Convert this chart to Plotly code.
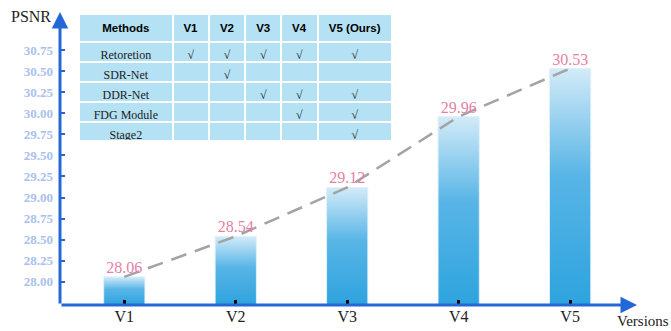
import plotly.graph_objects as go

versions = ["V1", "V2", "V3", "V4", "V5"]
psnr = [28.06, 28.54, 29.12, 29.96, 30.53]
y_ticks = [28.00, 28.25, 28.50, 28.75, 29.00, 29.25, 29.50, 29.75, 30.00, 30.25, 30.50, 30.75]

table_header = ["Methods", "V1", "V2", "V3", "V4", "V5 (Ours)"]
table_methods = ["Retoretion", "SDR-Net", "DDR-Net", "FDG Module", "Stage2"]
table_v1 = ["√", "", "", "", ""]
table_v2 = ["√", "√", "", "", ""]
table_v3 = ["√", "", "√", "", ""]
table_v4 = ["√", "", "√", "√", ""]
table_v5 = ["√", "", "√", "√", "√"]

W, H = 671, 331
X0, X1 = -0.577, 4.6
Y0, Y1 = 27.726, 31.2
BW = 0.37
SERIF = "Liberation Serif"

fig = go.Figure()

# gradient bars
for i, v in enumerate(psnr):
    fig.add_trace(go.Scatter(
        x=[i - BW / 2, i + BW / 2, i + BW / 2, i - BW / 2, i - BW / 2],
        y=[Y0, Y0, v, v, Y0],
        mode="lines", fill="toself",
        line=dict(color="rgba(225,242,252,0.9)", width=1),
        fillgradient=dict(type="vertical",
                          colorscale=[[0, "#2ea3de"], [0.55, "#58b5e6"], [1, "#d3ebf8"]]),
        hoverinfo="skip", showlegend=False,
    ))

# dashed trend line
fig.add_trace(go.Scatter(
    x=list(range(len(versions))), y=psnr, mode="lines",
    line=dict(color="#a3a3a3", width=2.5, dash="16px,9px"),
    hoverinfo="skip", showlegend=False,
))

# value labels
fig.add_trace(go.Scatter(
    x=list(range(len(versions))), y=psnr, mode="text",
    text=[f"{v:.2f}" for v in psnr], textposition="top center",
    textfont=dict(family=SERIF, size=16, color="#e57fa6"),
    hoverinfo="skip", showlegend=False,
))

# table
fig.add_trace(go.Table(
    domain=dict(x=[79 / W, 392 / W], y=[1 - 140 / H, 1 - 14 / H]),
    columnwidth=[93, 36, 36, 36, 36, 74],
    header=dict(values=[f"<b>{h}</b>" for h in table_header],
                fill_color="#b4e1f3", line=dict(color="white", width=2),
                font=dict(family="Liberation Sans", size=11.5, color="black"),
                align="center", height=20),
    cells=dict(values=[table_methods, table_v1, table_v2, table_v3, table_v4, table_v5],
               fill_color="#b4e1f3", line=dict(color="white", width=2),
               font=dict(family=SERIF, size=12, color="#222222"),
               align="center", height=20),
))

AX_COLOR = "#2468d8"
fig.update_layout(
    width=W, height=H, margin=dict(l=0, r=0, t=0, b=0),
    paper_bgcolor="white", plot_bgcolor="white", template="none",
    showlegend=False,
    xaxis=dict(domain=[60 / W, 637 / W], range=[X0, X1], automargin=False,
               tickvals=list(range(len(versions))), ticktext=versions,
               ticks="inside", ticklen=5, tickwidth=3, tickcolor="black",
               tickfont=dict(family=SERIF, size=16, color="#222222"),
               showgrid=False, zeroline=False, showline=False),
    yaxis=dict(domain=[26 / H, 319 / H], range=[Y0, Y1], automargin=False,
               tickvals=y_ticks, ticktext=[f"<b>{t:.2f}</b>" for t in y_ticks],
               ticks="inside", ticklen=5, tickwidth=2, tickcolor=AX_COLOR,
               tickfont=dict(family=SERIF, size=13, color="#a9c1ec"),
               ticklabelstandoff=6,
               showgrid=False, zeroline=False, showline=False),
    annotations=[
        dict(x=X0, y=Y1, ax=X0, ay=Y0, xref="x", yref="y", axref="x", ayref="y",
             showarrow=True, arrowhead=2, arrowsize=1.1, arrowwidth=3, arrowcolor=AX_COLOR, text=""),
        dict(x=X1, y=Y0, ax=X0, ay=Y0, xref="x", yref="y", axref="x", ayref="y",
             showarrow=True, arrowhead=2, arrowsize=1.1, arrowwidth=3, arrowcolor=AX_COLOR, text=""),
        dict(x=31 / W, y=1 - 16 / H, xref="paper", yref="paper", showarrow=False,
             xanchor="center", yanchor="middle",
             text="PSNR", font=dict(family=SERIF, size=16, color="#222222")),
        dict(x=643 / W, y=1 - 321 / H, xref="paper", yref="paper", showarrow=False,
             xanchor="center", yanchor="middle",
             text="Versions", font=dict(family=SERIF, size=15, color="#222222")),
    ],
)

fig.write_html("out.html")
